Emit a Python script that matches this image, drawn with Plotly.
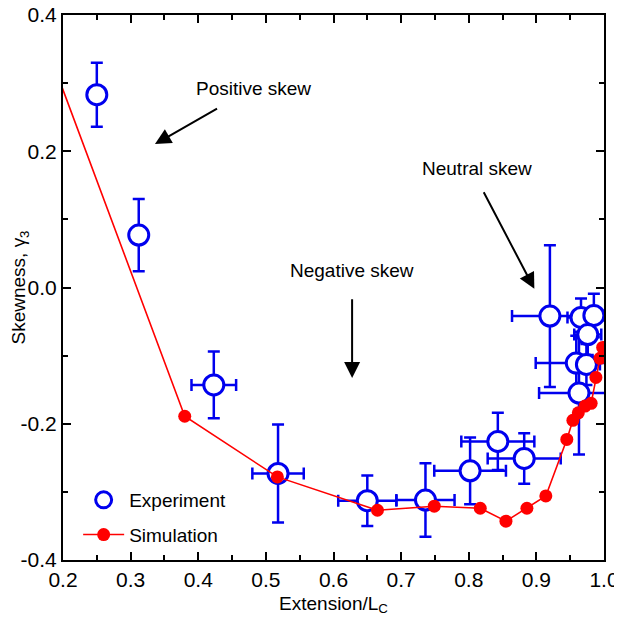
import plotly.graph_objects as go

# Experiment data
exp_x = [0.250, 0.312, 0.423, 0.518, 0.650, 0.736, 0.802, 0.843, 0.882, 0.920, 0.966, 0.985, 0.976, 0.959, 0.974, 0.963]
exp_y = [0.283, 0.077, -0.143, -0.273, -0.313, -0.312, -0.269, -0.226, -0.251, -0.042, -0.044, -0.041, -0.069, -0.111, -0.113, -0.155]
exp_xerr = [0.0, 0.0, 0.033, 0.038, 0.043, 0.043, 0.053, 0.054, 0.054, 0.056, 0.020, 0.015, 0.020, 0.060, 0.020, 0.059]
exp_yerr = [0.047, 0.053, 0.049, 0.072, 0.037, 0.054, 0.049, 0.042, 0.037, 0.104, 0.028, 0.032, 0.030, 0.040, 0.030, 0.090]

# Simulation data
sim_x = [0.170, 0.380, 0.517, 0.665, 0.749, 0.817, 0.855, 0.886, 0.914, 0.945, 0.954, 0.962, 0.972, 0.981, 0.988, 0.994, 0.998]
sim_y = [0.370, -0.189, -0.278, -0.327, -0.321, -0.324, -0.343, -0.324, -0.306, -0.223, -0.195, -0.184, -0.174, -0.170, -0.132, -0.104, -0.088]

x_ticks = [0.2, 0.3, 0.4, 0.5, 0.6, 0.7, 0.8, 0.9, 1.0]
y_ticks = [-0.4, -0.2, 0.0, 0.2, 0.4]

BLUE = "#0000EE"
RED = "#FF0000"
FONT = "Liberation Sans, Arial, sans-serif"

fig = go.Figure()
fig.add_trace(go.Scatter(
    x=exp_x, y=exp_y, mode="markers", name="Experiment", legendgroup="exp",
    marker=dict(symbol="circle", size=20, color="white", line=dict(color=BLUE, width=3)),
    error_x=dict(type="data", array=exp_xerr, color=BLUE, thickness=2.5, width=6),
    error_y=dict(type="data", array=exp_yerr, color=BLUE, thickness=2.5, width=6),
    cliponaxis=True,
))
fig.add_trace(go.Scatter(
    x=sim_x, y=sim_y, mode="lines+markers", name="Simulation", legendgroup="sim",
    line=dict(color=RED, width=1.6),
    marker=dict(symbol="circle", size=13, color=RED),
    cliponaxis=True,
))

ann_font = dict(family=FONT, size=19, color="black")
arrow = dict(showarrow=True, arrowhead=2, arrowsize=1.6, arrowwidth=2, arrowcolor="black",
             axref="x", ayref="y", xref="x", yref="y")
fig.add_annotation(x=0.336, y=0.2105, ax=0.430, ay=0.264, text="", **arrow)
fig.add_annotation(x=0.6275, y=-0.133, ax=0.6275, ay=-0.015, text="", **arrow)
fig.add_annotation(x=0.897, y=-0.002, ax=0.821, ay=0.142, text="", **arrow)
fig.add_annotation(x=0.481, y=0.292, text="Positive skew", showarrow=False, font=ann_font, xref="x", yref="y")
fig.add_annotation(x=0.627, y=0.025, text="Negative skew", showarrow=False, font=ann_font, xref="x", yref="y")
fig.add_annotation(x=0.812, y=0.174, text="Neutral skew", showarrow=False, font=ann_font, xref="x", yref="y")

axis_common = dict(
    showline=True, linecolor="black", linewidth=2, mirror="ticks",
    ticks="inside", ticklen=8, tickwidth=1.5, tickcolor="black",
    showgrid=False, zeroline=False, automargin=False, ticklabeloverflow="allow",
    tickfont=dict(family=FONT, size=21, color="black"),
)
fig.update_xaxes(
    range=[0.2, 1.0], tickvals=x_ticks, ticktext=[f"{v:.1f}" for v in x_ticks],
    minor=dict(ticks="inside", ticklen=5, tickwidth=1.5, tickcolor="black", dtick=0.05, tick0=0.2, showgrid=False),
    title=dict(text="Extension/L<sub>C</sub>", font=dict(family=FONT, size=19, color="black"), standoff=6),
    **axis_common,
)
fig.update_yaxes(
    range=[-0.4, 0.4], tickvals=y_ticks, ticktext=[f"{v:.1f}" for v in y_ticks],
    minor=dict(ticks="inside", ticklen=5, tickwidth=1.5, tickcolor="black", dtick=0.1, tick0=-0.4, showgrid=False),
    title=dict(text="Skewness, γ<sub>3</sub>", font=dict(family=FONT, size=19, color="black"), standoff=8),
    **axis_common,
)
fig.update_layout(
    width=614, height=617,
    margin=dict(l=55, r=18, t=7, b=65, autoexpand=False),
    plot_bgcolor="white", paper_bgcolor="white",
    font=dict(family=FONT, size=19, color="black"),
    legend=dict(x=0.028, y=0.011, xanchor="left", yanchor="bottom", bgcolor="rgba(0,0,0,0)",
                font=dict(family=FONT, size=19, color="black"), tracegroupgap=7,
                traceorder="grouped", itemwidth=41),
    showlegend=True,
)
fig.write_html("out.html")
